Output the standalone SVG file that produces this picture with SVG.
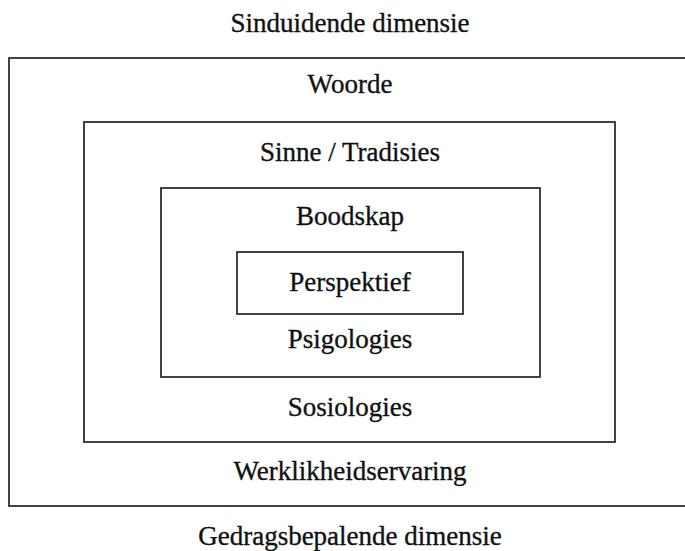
<svg xmlns="http://www.w3.org/2000/svg" width="685" height="551" viewBox="0 0 685 551">
<style>
.box{fill:none;stroke:#2e2e2e;stroke-width:1.8}
.t{font-family:"Liberation Serif","Times New Roman",serif;font-size:27px;fill:#111111;stroke:#111111;stroke-width:0.35;text-anchor:middle}
</style>
<rect width="685" height="551" fill="#ffffff"/>
<text class="t" x="350" y="32">Sinduidende dimensie</text>
<g id="outer">
<rect class="box" x="9" y="58" width="690" height="448"/>
<text class="t" x="350" y="93">Woorde</text>
<text class="t" x="350" y="480">Werklikheidservaring</text>
</g>
<g id="sinne">
<rect class="box" x="84" y="122" width="531" height="320"/>
<text class="t" x="350" y="161">Sinne / Tradisies</text>
<text class="t" x="350" y="416">Sosiologies</text>
</g>
<g id="boodskap">
<rect class="box" x="161" y="188" width="379" height="189"/>
<text class="t" x="350" y="225">Boodskap</text>
<text class="t" x="350" y="348">Psigologies</text>
</g>
<g id="perspektief">
<rect class="box" x="237" y="252" width="226" height="62"/>
<text class="t" x="350" y="291">Perspektief</text>
</g>
<text class="t" x="350" y="545">Gedragsbepalende dimensie</text>
</svg>
